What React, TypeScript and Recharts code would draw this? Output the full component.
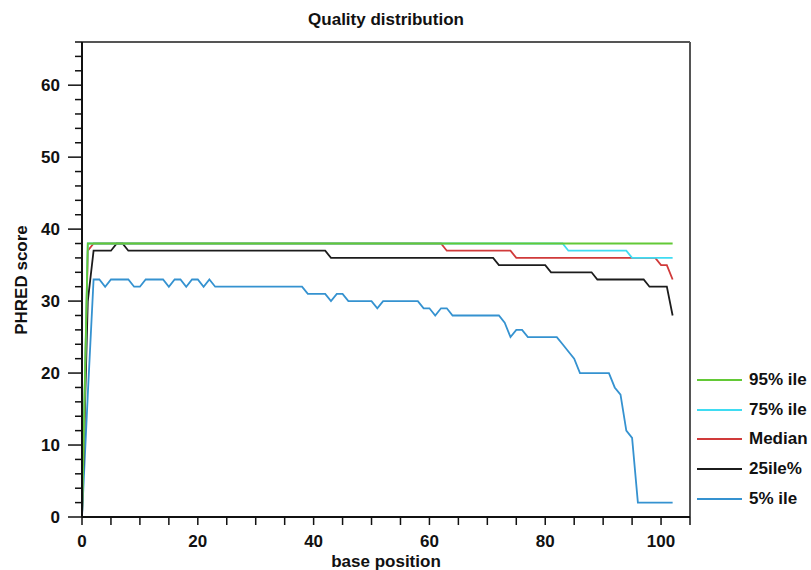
import { LineChart, Line, XAxis, YAxis, ReferenceLine } from "recharts";

// base positions along the read
const POSITIONS = [
  0, 1, 2, 3, 4, 5, 6, 7, 8, 9,
  10, 11, 12, 13, 14, 15, 16, 17, 18, 19,
  20, 21, 22, 23, 24, 25, 26, 27, 28, 29,
  30, 31, 32, 33, 34, 35, 36, 37, 38, 39,
  40, 41, 42, 43, 44, 45, 46, 47, 48, 49,
  50, 51, 52, 53, 54, 55, 56, 57, 58, 59,
  60, 61, 62, 63, 64, 65, 66, 67, 68, 69,
  70, 71, 72, 73, 74, 75, 76, 77, 78, 79,
  80, 81, 82, 83, 84, 85, 86, 87, 88, 89,
  90, 91, 92, 93, 94, 95, 96, 97, 98, 99,
  100, 101, 102,
];

const P95 = [
  0, 38, 38, 38, 38, 38, 38, 38, 38, 38,
  38, 38, 38, 38, 38, 38, 38, 38, 38, 38,
  38, 38, 38, 38, 38, 38, 38, 38, 38, 38,
  38, 38, 38, 38, 38, 38, 38, 38, 38, 38,
  38, 38, 38, 38, 38, 38, 38, 38, 38, 38,
  38, 38, 38, 38, 38, 38, 38, 38, 38, 38,
  38, 38, 38, 38, 38, 38, 38, 38, 38, 38,
  38, 38, 38, 38, 38, 38, 38, 38, 38, 38,
  38, 38, 38, 38, 38, 38, 38, 38, 38, 38,
  38, 38, 38, 38, 38, 38, 38, 38, 38, 38,
  38, 38, 38,
];

const P75 = [
  0, 38, 38, 38, 38, 38, 38, 38, 38, 38,
  38, 38, 38, 38, 38, 38, 38, 38, 38, 38,
  38, 38, 38, 38, 38, 38, 38, 38, 38, 38,
  38, 38, 38, 38, 38, 38, 38, 38, 38, 38,
  38, 38, 38, 38, 38, 38, 38, 38, 38, 38,
  38, 38, 38, 38, 38, 38, 38, 38, 38, 38,
  38, 38, 38, 38, 38, 38, 38, 38, 38, 38,
  38, 38, 38, 38, 38, 38, 38, 38, 38, 38,
  38, 38, 38, 38, 37, 37, 37, 37, 37, 37,
  37, 37, 37, 37, 37, 36, 36, 36, 36, 36,
  36, 36, 36,
];

const MEDIAN = [
  0, 37, 38, 38, 38, 38, 38, 38, 38, 38,
  38, 38, 38, 38, 38, 38, 38, 38, 38, 38,
  38, 38, 38, 38, 38, 38, 38, 38, 38, 38,
  38, 38, 38, 38, 38, 38, 38, 38, 38, 38,
  38, 38, 38, 38, 38, 38, 38, 38, 38, 38,
  38, 38, 38, 38, 38, 38, 38, 38, 38, 38,
  38, 38, 38, 37, 37, 37, 37, 37, 37, 37,
  37, 37, 37, 37, 37, 36, 36, 36, 36, 36,
  36, 36, 36, 36, 36, 36, 36, 36, 36, 36,
  36, 36, 36, 36, 36, 36, 36, 36, 36, 36,
  35, 35, 33,
];

const P25 = [
  0, 30, 37, 37, 37, 37, 38, 38, 37, 37,
  37, 37, 37, 37, 37, 37, 37, 37, 37, 37,
  37, 37, 37, 37, 37, 37, 37, 37, 37, 37,
  37, 37, 37, 37, 37, 37, 37, 37, 37, 37,
  37, 37, 37, 36, 36, 36, 36, 36, 36, 36,
  36, 36, 36, 36, 36, 36, 36, 36, 36, 36,
  36, 36, 36, 36, 36, 36, 36, 36, 36, 36,
  36, 36, 35, 35, 35, 35, 35, 35, 35, 35,
  35, 34, 34, 34, 34, 34, 34, 34, 34, 33,
  33, 33, 33, 33, 33, 33, 33, 33, 32, 32,
  32, 32, 28,
];

const P5 = [
  0, 17, 33, 33, 32, 33, 33, 33, 33, 32,
  32, 33, 33, 33, 33, 32, 33, 33, 32, 33,
  33, 32, 33, 32, 32, 32, 32, 32, 32, 32,
  32, 32, 32, 32, 32, 32, 32, 32, 32, 31,
  31, 31, 31, 30, 31, 31, 30, 30, 30, 30,
  30, 29, 30, 30, 30, 30, 30, 30, 30, 29,
  29, 28, 29, 29, 28, 28, 28, 28, 28, 28,
  28, 28, 28, 27, 25, 26, 26, 25, 25, 25,
  25, 25, 25, 24, 23, 22, 20, 20, 20, 20,
  20, 20, 18, 17, 12, 11, 2, 2, 2, 2,
  2, 2, 2,
];

const X_TICKS = [0, 5, 10, 15, 20, 25, 30, 35, 40, 45, 50, 55, 60, 65, 70, 75, 80, 85, 90, 95, 100, 105];
const Y_TICKS = [
  0, 2, 4, 6, 8, 10, 12, 14, 16, 18, 20, 22, 24, 26, 28, 30, 32,
  34, 36, 38, 40, 42, 44, 46, 48, 50, 52, 54, 56, 58, 60, 62, 64, 66,
];

// drawn bottom-up: 5% first, 95% on top
const SERIES = [
  { key: "p5", name: "5% ile", color: "#3592d0", values: P5 },
  { key: "p25", name: "25ile%", color: "#1c1c1c", values: P25 },
  { key: "median", name: "Median", color: "#d03a3a", values: MEDIAN },
  { key: "p75", name: "75% ile", color: "#3fdcf2", values: P75 },
  { key: "p95", name: "95% ile", color: "#63c936", values: P95 },
];

const FONT = '"Liberation Sans", Arial, Helvetica, sans-serif';

const data = POSITIONS.map((pos, i) => {
  const row: Record<string, number> = { pos };
  SERIES.forEach((s) => {
    row[s.key] = s.values[i];
  });
  return row;
});

function YTick({ x, y, payload }: any) {
  const major = payload.value % 10 === 0;
  return (
    <g>
      <line x1={x - (major ? 14 : 7)} x2={x} y1={y} y2={y} stroke="#111" strokeWidth={1.5} />
      {major && (
        <text
          x={x - 22}
          y={y}
          dy="0.36em"
          textAnchor="end"
          fill="#111"
          fontSize={17}
          fontWeight="bold"
          fontFamily={FONT}
        >
          {payload.value}
        </text>
      )}
    </g>
  );
}

export default function App() {
  const legendRows = [...SERIES].reverse();

  return (
    <div
      style={{
        position: "absolute",
        left: 0,
        top: 0,
        width: 811,
        height: 570,
        background: "#fff",
        fontFamily: FONT,
      }}
    >
      <div
        style={{
          position: "absolute",
          left: 82,
          width: 608,
          top: 10,
          textAlign: "center",
          fontSize: 17,
          fontWeight: "bold",
          color: "#111",
        }}
      >
        Quality distribution
      </div>

      <LineChart
        width={811}
        height={570}
        data={data}
        margin={{ top: 42, right: 121, bottom: 0, left: 0 }}
      >
        <XAxis
          type="number"
          dataKey="pos"
          domain={[0, 105]}
          ticks={X_TICKS}
          interval={0}
          height={53}
          tickSize={8}
          tickMargin={10}
          tickFormatter={(v: number) => (v % 20 === 0 ? String(v) : "")}
          tick={{ fill: "#111", fontSize: 17, fontWeight: "bold", fontFamily: FONT }}
          axisLine={{ stroke: "#111", strokeWidth: 2 }}
          tickLine={{ stroke: "#111", strokeWidth: 1.5 }}
        />
        <YAxis
          type="number"
          domain={[0, 66]}
          ticks={Y_TICKS}
          interval={0}
          width={82}
          tickSize={0}
          tickMargin={0}
          tick={<YTick />}
          axisLine={{ stroke: "#111", strokeWidth: 2 }}
        />
        {/* plot frame: top and right edges */}
        <ReferenceLine y={66} stroke="#555" strokeWidth={2} />
        <ReferenceLine x={105} stroke="#555" strokeWidth={2} />
        {SERIES.map((s) => (
          <Line
            key={s.key}
            type="linear"
            dataKey={s.key}
            name={s.name}
            stroke={s.color}
            strokeWidth={1.8}
            dot={false}
            activeDot={false}
            isAnimationActive={false}
          />
        ))}
      </LineChart>

      {/* axis titles */}
      <div
        style={{
          position: "absolute",
          left: 22,
          top: 280,
          transform: "translate(-50%, -50%) rotate(-90deg)",
          whiteSpace: "nowrap",
          fontSize: 17,
          fontWeight: "bold",
          color: "#111",
        }}
      >
        PHRED score
      </div>
      <div
        style={{
          position: "absolute",
          left: 82,
          width: 608,
          top: 552,
          textAlign: "center",
          fontSize: 17,
          fontWeight: "bold",
          color: "#111",
        }}
      >
        base position
      </div>

      {/* legend */}
      {legendRows.map((s, i) => (
        <div
          key={s.key}
          style={{
            position: "absolute",
            left: 697,
            top: 370 + i * 29.7,
            height: 20,
            display: "flex",
            alignItems: "center",
            fontSize: 17,
            fontWeight: "bold",
            color: "#111",
            whiteSpace: "nowrap",
          }}
        >
          <span
            style={{ display: "inline-block", width: 45, height: 2, background: s.color, marginRight: 7 }}
          />
          {s.name}
        </div>
      ))}
    </div>
  );
}
